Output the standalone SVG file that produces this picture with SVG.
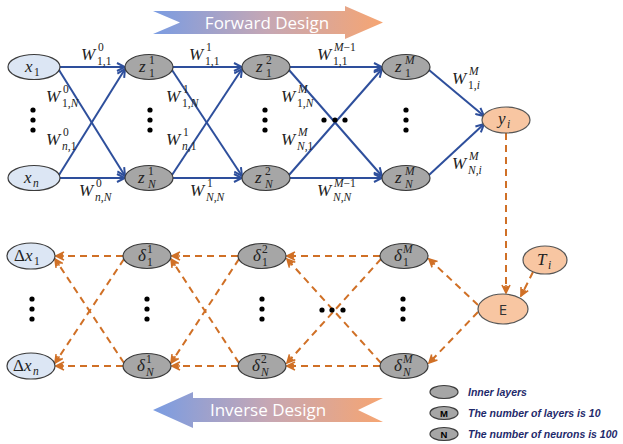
<svg xmlns="http://www.w3.org/2000/svg" width="623" height="444" viewBox="0 0 623 444">
<style>
.ein{fill:#dce6f4;stroke:#3b3b3b;stroke-width:1.2}
.eg{fill:#a6a6a6;stroke:#3b3b3b;stroke-width:1.2}
.eo{fill:#f8c6a2;stroke:#555;stroke-width:1.2}
.m{font-family:"Liberation Serif",serif;font-style:italic;font-size:17px;fill:#222}
.s{font-size:11.5px}
.up{font-style:normal}
.fw{stroke:#2e4f9c;stroke-width:2;fill:none;marker-end:url(#ab)}
.bw{stroke:#d07026;stroke-width:2;stroke-dasharray:7 5;fill:none;marker-end:url(#ao)}
.dot{fill:#000}
.ban{font-family:"Open Sans","Noto Sans",sans-serif;font-size:17px;fill:#fff;text-anchor:middle}
.lg{font-family:"Liberation Sans",sans-serif;font-size:10.5px;font-weight:bold;font-style:italic;fill:#1f2a6b}
.lm{font-family:"Liberation Sans",sans-serif;font-size:9.5px;font-weight:bold;fill:#000;text-anchor:middle}
</style>
<defs>
<linearGradient id="gr" x1="0" y1="0" x2="1" y2="0">
<stop offset="0" stop-color="#7a9ce2"/>
<stop offset="0.5" stop-color="#c6a7b4"/>
<stop offset="1" stop-color="#f6a572"/>
</linearGradient>
<marker id="ab" viewBox="0 0 10 10" refX="9" refY="5" markerWidth="10" markerHeight="10" markerUnits="userSpaceOnUse" orient="auto">
<path d="M1,1 L9,5 L1,9" fill="none" stroke="#2e4f9c" stroke-width="2"/>
</marker>
<marker id="ao" viewBox="0 0 10 10" refX="9" refY="5" markerWidth="10" markerHeight="10" markerUnits="userSpaceOnUse" orient="auto">
<path d="M1,1 L9,5 L1,9 M2,3 L9,5 L2,7 M1,5 L9,5" fill="none" stroke="#d07026" stroke-width="1.6"/>
</marker>
</defs>
<rect width="623" height="444" fill="#fff"/>

<g id="banner-forward">
<polygon points="153,11 345,11 345,6 383,22.5 345,39 345,34 153,34 180,22.5" fill="url(#gr)"/>
<text class="ban" x="267" y="28.5">Forward Design</text>
</g>
<g id="banner-inverse">
<polygon points="153,410 193,392 193,398 383,398 358,410 383,422 193,422 193,428" fill="url(#gr)"/>
<text class="ban" x="268" y="416">Inverse Design</text>
</g>

<g id="connectors">
<line class="fw" x1="60" y1="67" x2="125" y2="67"/>
<line class="fw" x1="59" y1="70" x2="125" y2="176"/>
<line class="fw" x1="59" y1="175" x2="125" y2="69"/>
<line class="fw" x1="60" y1="178" x2="125" y2="178"/>
<line class="fw" x1="173" y1="67" x2="242" y2="67"/>
<line class="fw" x1="172" y1="70" x2="242" y2="176"/>
<line class="fw" x1="172" y1="175" x2="242" y2="69"/>
<line class="fw" x1="173" y1="178" x2="242" y2="178"/>
<line class="fw" x1="290" y1="67" x2="382" y2="67"/>
<line class="fw" x1="289" y1="70" x2="382" y2="176"/>
<line class="fw" x1="289" y1="175" x2="382" y2="69"/>
<line class="fw" x1="290" y1="178" x2="382" y2="178"/>
<line class="fw" x1="429" y1="70" x2="484" y2="116"/>
<line class="fw" x1="429" y1="175" x2="484" y2="124"/>

<line class="bw" x1="506" y1="133" x2="506" y2="293"/>
<line class="bw" x1="533" y1="272" x2="521" y2="296"/>
<line class="bw" x1="478" y1="305" x2="429" y2="259"/>
<line class="bw" x1="478" y1="312" x2="429" y2="363"/>
<line class="bw" x1="380" y1="256" x2="287" y2="256"/>
<line class="bw" x1="381" y1="259" x2="287" y2="363"/>
<line class="bw" x1="381" y1="363" x2="287" y2="259"/>
<line class="bw" x1="380" y1="366" x2="287" y2="366"/>
<line class="bw" x1="238" y1="256" x2="172" y2="256"/>
<line class="bw" x1="239" y1="259" x2="171" y2="363"/>
<line class="bw" x1="239" y1="363" x2="171" y2="259"/>
<line class="bw" x1="238" y1="366" x2="172" y2="366"/>
<line class="bw" x1="123" y1="256" x2="56" y2="256"/>
<line class="bw" x1="124" y1="259" x2="55" y2="363"/>
<line class="bw" x1="124" y1="363" x2="55" y2="259"/>
<line class="bw" x1="123" y1="366" x2="56" y2="366"/>
</g>

<g id="weight-labels" class="m">
<text><tspan x="81" y="60">W</tspan><tspan class="s up" x="98" y="51">0</tspan><tspan class="s up" x="97" y="65">1,1</tspan></text>
<text><tspan x="46" y="102">W</tspan><tspan class="s up" x="63" y="93">0</tspan><tspan class="s up" x="62" y="107">1,</tspan><tspan class="s">N</tspan></text>
<text><tspan x="46" y="145">W</tspan><tspan class="s up" x="63" y="136">0</tspan><tspan class="s" x="62" y="150">n</tspan><tspan class="s up">,1</tspan></text>
<text><tspan x="79" y="196">W</tspan><tspan class="s up" x="96" y="187">0</tspan><tspan class="s" x="95" y="201">n</tspan><tspan class="s up">,</tspan><tspan class="s">N</tspan></text>
<text><tspan x="189" y="60">W</tspan><tspan class="s up" x="206" y="51">1</tspan><tspan class="s up" x="205" y="65">1,1</tspan></text>
<text><tspan x="166" y="102">W</tspan><tspan class="s up" x="183" y="93">1</tspan><tspan class="s up" x="182" y="107">1,</tspan><tspan class="s">N</tspan></text>
<text><tspan x="166" y="145">W</tspan><tspan class="s up" x="183" y="136">1</tspan><tspan class="s" x="182" y="150">n</tspan><tspan class="s up">,1</tspan></text>
<text><tspan x="190" y="196">W</tspan><tspan class="s up" x="207" y="187">1</tspan><tspan class="s" x="206" y="201">N</tspan><tspan class="s up">,</tspan><tspan class="s">N</tspan></text>
<text><tspan x="281" y="102">W</tspan><tspan class="s" x="298" y="93">M</tspan><tspan class="s up" x="297" y="107">1,</tspan><tspan class="s">N</tspan></text>
<text><tspan x="281" y="145">W</tspan><tspan class="s" x="298" y="136">M</tspan><tspan class="s" x="297" y="150">N</tspan><tspan class="s up">,1</tspan></text>
<text><tspan x="317" y="60">W</tspan><tspan class="s" x="334" y="51">M</tspan><tspan class="s up">−1</tspan><tspan class="s up" x="333" y="65">1,1</tspan></text>
<text><tspan x="317" y="196">W</tspan><tspan class="s" x="334" y="187">M</tspan><tspan class="s up">−1</tspan><tspan class="s" x="333" y="201">N</tspan><tspan class="s up">,</tspan><tspan class="s">N</tspan></text>
<text><tspan x="452" y="84">W</tspan><tspan class="s" x="469" y="75">M</tspan><tspan class="s up" x="468" y="89">1,</tspan><tspan class="s">i</tspan></text>
<text><tspan x="452" y="169">W</tspan><tspan class="s" x="469" y="160">M</tspan><tspan class="s" x="468" y="174">N</tspan><tspan class="s up">,</tspan><tspan class="s">i</tspan></text>
</g>

<g id="dots">
<circle class="dot" cx="33" cy="110" r="2.6"/><circle class="dot" cx="33" cy="120" r="2.6"/><circle class="dot" cx="33" cy="130" r="2.6"/>
<circle class="dot" cx="150" cy="110" r="2.6"/><circle class="dot" cx="150" cy="120" r="2.6"/><circle class="dot" cx="150" cy="130" r="2.6"/>
<circle class="dot" cx="265" cy="110" r="2.6"/><circle class="dot" cx="265" cy="120" r="2.6"/><circle class="dot" cx="265" cy="130" r="2.6"/>
<circle class="dot" cx="406" cy="110" r="2.6"/><circle class="dot" cx="406" cy="120" r="2.6"/><circle class="dot" cx="406" cy="130" r="2.6"/>
<circle class="dot" cx="324" cy="120" r="2.6"/><circle class="dot" cx="335" cy="120" r="2.6"/><circle class="dot" cx="345" cy="120" r="2.6"/>
<circle class="dot" cx="32" cy="299" r="2.6"/><circle class="dot" cx="32" cy="309" r="2.6"/><circle class="dot" cx="32" cy="319" r="2.6"/>
<circle class="dot" cx="147" cy="299" r="2.6"/><circle class="dot" cx="147" cy="309" r="2.6"/><circle class="dot" cx="147" cy="319" r="2.6"/>
<circle class="dot" cx="262" cy="299" r="2.6"/><circle class="dot" cx="262" cy="309" r="2.6"/><circle class="dot" cx="262" cy="319" r="2.6"/>
<circle class="dot" cx="403" cy="299" r="2.6"/><circle class="dot" cx="403" cy="309" r="2.6"/><circle class="dot" cx="403" cy="319" r="2.6"/>
<circle class="dot" cx="322" cy="310" r="2.6"/><circle class="dot" cx="332" cy="310" r="2.6"/><circle class="dot" cx="343" cy="310" r="2.6"/>
</g>

<g id="x1"><ellipse class="ein" cx="34" cy="67" rx="26" ry="12.5"/><text class="m"><tspan x="25" y="72">x</tspan><tspan class="s up" x="34" y="76">1</tspan></text></g>
<g id="xn"><ellipse class="ein" cx="34" cy="178" rx="26" ry="12.5"/><text class="m"><tspan x="24" y="183">x</tspan><tspan class="s" x="33" y="187">n</tspan></text></g>
<g id="z1_1"><ellipse class="eg" cx="149" cy="67" rx="24" ry="12.5"/><text class="m"><tspan x="139" y="72">z</tspan><tspan class="s up" x="149" y="64">1</tspan><tspan class="s up" x="149" y="77">1</tspan></text></g>
<g id="zN_1"><ellipse class="eg" cx="149" cy="178" rx="24" ry="12.5"/><text class="m"><tspan x="138" y="183">z</tspan><tspan class="s up" x="148" y="175">1</tspan><tspan class="s" x="148" y="188">N</tspan></text></g>
<g id="z1_2"><ellipse class="eg" cx="266" cy="67" rx="24" ry="12.5"/><text class="m"><tspan x="256" y="72">z</tspan><tspan class="s up" x="266" y="64">2</tspan><tspan class="s up" x="266" y="77">1</tspan></text></g>
<g id="zN_2"><ellipse class="eg" cx="266" cy="178" rx="24" ry="12.5"/><text class="m"><tspan x="255" y="183">z</tspan><tspan class="s up" x="265" y="175">2</tspan><tspan class="s" x="265" y="188">N</tspan></text></g>
<g id="z1_M"><ellipse class="eg" cx="406" cy="67" rx="24" ry="12.5"/><text class="m"><tspan x="395" y="72">z</tspan><tspan class="s" x="405" y="64">M</tspan><tspan class="s up" x="405" y="77">1</tspan></text></g>
<g id="zN_M"><ellipse class="eg" cx="406" cy="178" rx="24" ry="12.5"/><text class="m"><tspan x="395" y="183">z</tspan><tspan class="s" x="405" y="175">M</tspan><tspan class="s" x="405" y="188">N</tspan></text></g>
<g id="yi"><ellipse class="eo" cx="506" cy="120" rx="24" ry="13"/><text class="m"><tspan x="498" y="124">y</tspan><tspan class="s" x="507" y="128">i</tspan></text></g>

<g id="dx1"><ellipse class="ein" cx="31" cy="256" rx="24" ry="13"/><text class="m"><tspan class="up" x="14" y="261">Δ</tspan><tspan x="25" y="261">x</tspan><tspan class="s up" x="34" y="265">1</tspan></text></g>
<g id="dxn"><ellipse class="ein" cx="31" cy="366" rx="24" ry="13"/><text class="m"><tspan class="up" x="13" y="371">Δ</tspan><tspan x="24" y="371">x</tspan><tspan class="s" x="33" y="375">n</tspan></text></g>
<g id="d1_1"><ellipse class="eg" cx="147" cy="256" rx="24" ry="12.5"/><text class="m"><tspan x="138" y="261">δ</tspan><tspan class="s up" x="147" y="253">1</tspan><tspan class="s up" x="147" y="266">1</tspan></text></g>
<g id="dN_1"><ellipse class="eg" cx="147" cy="366" rx="24" ry="12.5"/><text class="m"><tspan x="137" y="371">δ</tspan><tspan class="s up" x="146" y="363">1</tspan><tspan class="s" x="146" y="376">N</tspan></text></g>
<g id="d1_2"><ellipse class="eg" cx="262" cy="256" rx="24" ry="12.5"/><text class="m"><tspan x="253" y="261">δ</tspan><tspan class="s up" x="262" y="253">2</tspan><tspan class="s up" x="262" y="266">1</tspan></text></g>
<g id="dN_2"><ellipse class="eg" cx="262" cy="366" rx="24" ry="12.5"/><text class="m"><tspan x="252" y="371">δ</tspan><tspan class="s up" x="261" y="363">2</tspan><tspan class="s" x="261" y="376">N</tspan></text></g>
<g id="d1_M"><ellipse class="eg" cx="404" cy="256" rx="24" ry="12.5"/><text class="m"><tspan x="394" y="261">δ</tspan><tspan class="s" x="403" y="253">M</tspan><tspan class="s up" x="403" y="266">1</tspan></text></g>
<g id="dN_M"><ellipse class="eg" cx="404" cy="366" rx="24" ry="12.5"/><text class="m"><tspan x="394" y="371">δ</tspan><tspan class="s" x="403" y="363">M</tspan><tspan class="s" x="403" y="376">N</tspan></text></g>
<g id="E"><ellipse class="eo" cx="503" cy="309" rx="25" ry="15"/><text x="503" y="315" font-family="Open Sans, Noto Sans, sans-serif" font-size="15" fill="#333" text-anchor="middle">E</text></g>
<g id="Ti"><ellipse class="eo" cx="545" cy="260" rx="22" ry="14"/><text class="m"><tspan x="537" y="265">T</tspan><tspan class="s" x="548" y="269">i</tspan></text></g>

<g id="legend">
<ellipse class="eg" cx="444" cy="392" rx="14" ry="6.5"/>
<text class="lg" x="468" y="396">Inner layers</text>
<ellipse class="eg" cx="444" cy="413" rx="14" ry="6.5"/>
<text class="lm" x="444" y="416.5">M</text>
<text class="lg" x="468" y="417">The number of layers is 10</text>
<ellipse class="eg" cx="444" cy="434" rx="14" ry="6.5"/>
<text class="lm" x="444" y="437.5">N</text>
<text class="lg" x="468" y="438">The number of neurons is 100</text>
</g>
</svg>
